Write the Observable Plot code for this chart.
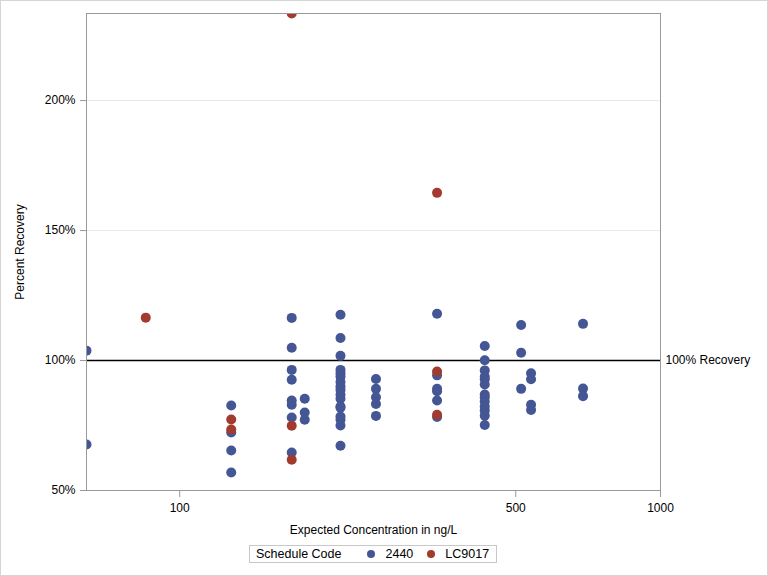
<!DOCTYPE html>
<html>
<head>
<meta charset="utf-8">
<script src="https://cdn.jsdelivr.net/npm/d3@7"></script>
<script src="https://cdn.jsdelivr.net/npm/@observablehq/plot@0.6"></script>
<style>
  html, body { margin: 0; padding: 0; background: #fff; }
  #wrap { position: relative; width: 768px; height: 576px; font-family: "Liberation Sans", Arial, sans-serif; color: #000; }
  #border { position: absolute; left: 0; top: 0; width: 768px; height: 576px; box-sizing: border-box; border: 1px solid #d4d4d4; pointer-events: none; }
  #legend { position: absolute; left: 249px; top: 545px; height: 18px; box-sizing: border-box; border: 1px solid #c8c8c8; display: flex; align-items: center; font-size: 12.5px; padding: 0 7px 0 6px; white-space: nowrap; }
  .sw { display: inline-block; width: 8px; height: 8px; border-radius: 50%; }
</style>
</head>
<body>
<div id="wrap">
  <div id="chart"></div>
  <div id="legend"></div>
  <div id="border"></div>
</div>
<script>
// Series names and colors
const seriesNames = ["2440", "LC9017"];
const seriesColors = ["#445694", "#A23A2E"];

// Schedule 2440: expected concentration (ng/L) and percent recovery
const conc2440 = [
  64, 64,
  128, 128, 128, 128,
  171, 171, 171, 171, 171, 171, 171, 171,
  182, 182, 182,
  216, 216, 216, 216, 216, 216, 216, 216, 216, 216, 216, 216, 216, 216, 216, 216, 216,
  256, 256, 256, 256, 256,
  343, 343, 343, 343, 343, 343,
  431, 431, 431, 431, 431, 431, 431, 431, 431, 431, 431, 431, 431,
  513, 513, 513,
  538, 538, 538, 538,
  690, 690, 690
];
const rec2440 = [
  103.8, 67.7,
  82.7, 72.3, 65.4, 56.9,
  116.4, 104.9, 96.4, 92.6, 84.6, 83.0, 78.1, 64.6,
  85.3, 80.0, 77.2,
  117.6, 108.7, 101.8, 96.4, 95.1, 93.8, 91.7, 90.0, 88.7, 86.8, 85.3, 82.3, 81.8, 78.5, 77.2, 75.0, 67.2,
  92.9, 89.1, 85.9, 83.3, 78.7,
  118.0, 94.3, 89.1, 88.2, 84.6, 78.3,
  105.6, 100.1, 96.2, 93.8, 92.8, 90.8, 86.9, 85.9, 84.2, 82.3, 80.8, 78.8, 75.2,
  113.7, 103.0, 89.1,
  95.1, 92.8, 83.0, 81.0,
  114.1, 89.2, 86.3
];

// Schedule LC9017
const concLC9017 = [85, 128, 128, 171, 171, 171, 343, 343, 343];
const recLC9017 = [116.5, 77.3, 73.5, 233.5, 74.9, 61.8, 164.5, 95.8, 79.1];

// Axis ticks and reference line
const xTicks = [100, 500, 1000];
const yTicks = [50, 100, 150, 200];
const gridTicks = [150, 200];
const refLines = [{value: 100, label: "100% Recovery"}];

const data = [
  ...conc2440.map((c, i) => ({code: "2440", conc: c, rec: rec2440[i]})),
  ...concLC9017.map((c, i) => ({code: "LC9017", conc: c, rec: recLC9017[i]}))
];

const chart = Plot.plot({
  width: 768,
  height: 540,
  marginLeft: 86,
  marginRight: 108,
  marginTop: 13,
  marginBottom: 50,
  style: {fontFamily: "'Liberation Sans', Arial, sans-serif", fontSize: "12px", color: "#000", background: "transparent", overflow: "visible"},
  x: {type: "log", domain: [64, 1000]},
  y: {domain: [50, 233.5]},
  color: {domain: seriesNames, range: seriesColors},
  marks: [
    Plot.gridY(gridTicks, {stroke: "#e8e8e8", strokeOpacity: 1}),
    Plot.ruleY(refLines, {y: "value", stroke: "#000", strokeWidth: 1.5}),
    Plot.text(refLines, {y: "value", text: "label", frameAnchor: "right", textAnchor: "start", dx: 5, fill: "#000", fontSize: 12}),
    Plot.axisX({ticks: xTicks, tickFormat: d => String(d), tickSize: 7, tickPadding: 6, stroke: "#999", fill: "#000",
      label: "Expected Concentration in ng/L", labelAnchor: "center", labelArrow: "none", labelOffset: 43}),
    Plot.axisY({ticks: yTicks, tickFormat: d => d + "%", tickSize: 6, tickPadding: 5, stroke: "#999", fill: "#000",
      label: "Percent Recovery", labelAnchor: "center", labelArrow: "none", labelOffset: 71}),
    Plot.dot(data, {x: "conc", y: "rec", fill: "code", r: 5, clip: true}),
    Plot.frame({stroke: "#999"})
  ]
});
document.getElementById("chart").appendChild(chart);

// Legend
const lg = document.getElementById("legend");
const title = document.createElement("span");
title.textContent = "Schedule Code";
title.style.marginRight = "26px";
lg.appendChild(title);
seriesNames.forEach((n, i) => {
  const sw = document.createElement("span");
  sw.className = "sw";
  sw.style.background = seriesColors[i];
  sw.style.marginRight = "10px";
  lg.appendChild(sw);
  const t = document.createElement("span");
  t.textContent = n;
  if (i < seriesNames.length - 1) t.style.marginRight = "14px";
  lg.appendChild(t);
});
</script>
</body>
</html>
